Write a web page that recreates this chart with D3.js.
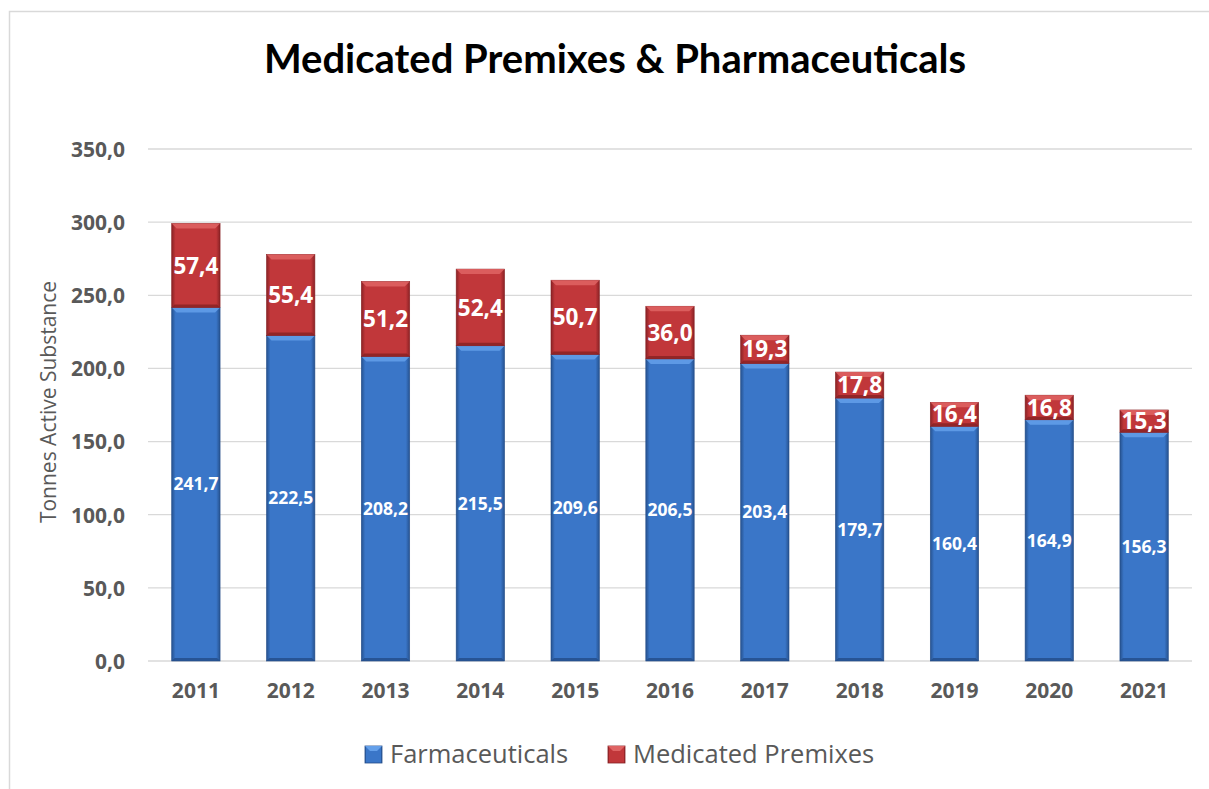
<!DOCTYPE html>
<html lang="en">
<head>
<meta charset="UTF-8">
<title>Medicated Premixes & Pharmaceuticals</title>
<script src="https://d3js.org/d3.v7.min.js"></script>
<style>
  body { margin: 0; background: #fff; }
  svg { display: block; font-family: "Open Sans", sans-serif; }
  .grid line { stroke: #d9d9d9; stroke-width: 1.3; }
  .axis text { fill: #595959; font-weight: bold; font-size: 21px; font-family: "Open Sans", sans-serif; }
</style>
</head>
<body>
<svg id="chart" width="1209" height="789"></svg>
<script>
// data
var years = ["2011","2012","2013","2014","2015","2016","2017","2018","2019","2020","2021"];
var farmaceuticals = [241.7, 222.5, 208.2, 215.5, 209.6, 206.5, 203.4, 179.7, 160.4, 164.9, 156.3];
var premixes = [57.4, 55.4, 51.2, 52.4, 50.7, 36.0, 19.3, 17.8, 16.4, 16.8, 15.3];
var yTicks = [0, 50, 100, 150, 200, 250, 300, 350];
var seriesNames = ["Farmaceuticals", "Medicated Premixes"];

var margin = {top: 149, right: 17, bottom: 128, left: 148},
    width = 1209 - margin.left - margin.right,
    height = 789 - margin.top - margin.bottom;

var fmt = function(v) { return d3.format(".1f")(v).replace(".", ","); };

var svg = d3.select("#chart");

// outer frame
svg.append("rect")
    .attr("x", 9.5).attr("y", 11.5)
    .attr("width", 1209).attr("height", 789)
    .attr("fill", "none").attr("stroke", "#d9d9d9").attr("stroke-width", 1.5);

svg.append("text")
    .attr("x", 615).attr("y", 73)
    .attr("text-anchor", "middle")
    .attr("font-family", "Lato, sans-serif")
    .attr("font-size", "40px").attr("font-weight", "bold").attr("fill", "#000")
    .text("Medicated Premixes & Pharmaceuticals");

var defs = svg.append("defs");
// bevel-ish gradients, one per colour
function makeGrad(id, edge, mid) {
  var g = defs.append("linearGradient").attr("id", id)
      .attr("x1", "0").attr("x2", "1").attr("y1", "0").attr("y2", "0");
  g.append("stop").attr("offset", "0").attr("stop-color", edge);
  g.append("stop").attr("offset", "0.08").attr("stop-color", mid);
  g.append("stop").attr("offset", "0.92").attr("stop-color", mid);
  g.append("stop").attr("offset", "1").attr("stop-color", edge);
}
makeGrad("gBlue", "#26528f", "#3a76c8");
makeGrad("gRed", "#8a2225", "#c1373a");

var colors = {
  blue: {grad: "url(#gBlue)", top: "#64a0ea", bottom: "#234c88"},
  red: {grad: "url(#gRed)", top: "#df6464", bottom: "#862023"}
};

var g = svg.append("g").attr("transform", `translate(${margin.left},${margin.top})`);

var x = d3.scaleBand().domain(years).range([0, width]).paddingInner(0.49).paddingOuter(0.25);
var y = d3.scaleLinear().domain([0, 350]).range([height, 0]);

// gridlines
g.append("g").attr("class", "grid")
  .selectAll("line").data(yTicks).enter().append("line")
    .attr("x1", 0).attr("x2", width)
    .attr("y1", function(d) { return y(d); })
    .attr("y2", function(d) { return y(d); });

// y axis labels
var yAxis = d3.axisLeft(y).tickValues(yTicks).tickFormat(fmt).tickSize(0).tickPadding(23);
g.append("g").attr("class", "axis").call(yAxis)
  .call(function(s) { s.select(".domain").remove(); })
  .selectAll("text").attr("dy", "0.35em");

// x axis labels
var xAxis = d3.axisBottom(x).tickSize(0).tickPadding(26);
g.append("g").attr("class", "axis").attr("transform", `translate(0,${height})`).call(xAxis)
  .call(function(s) { s.select(".domain").remove(); })
  .selectAll("text").attr("dy", "0.5em");

svg.append("text")
    .attr("transform", "translate(56,402) rotate(-90)")
    .attr("text-anchor", "middle")
    .attr("font-size", "21px").attr("fill", "#595959")
    .text("Tonnes Active Substance");

var stackData = years.map(function(yr, i) {
  return {year: yr, f: farmaceuticals[i], m: premixes[i]};
});

function bevelBar(sel, col, y0fn, y1fn) {
  var bw = x.bandwidth();
  sel.append("rect")
    .attr("x", function(d) { return x(d.year); })
    .attr("y", function(d) { return y(y1fn(d)); })
    .attr("width", bw)
    .attr("height", function(d) { return y(y0fn(d)) - y(y1fn(d)); })
    .attr("fill", col.grad)
    .attr("stroke", col.bottom).attr("stroke-width", 0.6);
  // lighter top bevel
  sel.append("path")
    .attr("d", function(d) {
      var x0 = x(d.year), yt = y(y1fn(d)), b = Math.min(5, (y(y0fn(d)) - yt) / 3);
      return `M${x0},${yt}L${x0 + bw},${yt}L${x0 + bw - b},${yt + b}L${x0 + b},${yt + b}Z`;
    })
    .attr("fill", col.top).attr("opacity", 0.85);
  // darker bottom bevel
  sel.append("path")
    .attr("d", function(d) {
      var x0 = x(d.year), yb = y(y0fn(d)), b = Math.min(3, (yb - y(y1fn(d))) / 4);
      return `M${x0},${yb}L${x0 + bw},${yb}L${x0 + bw - b},${yb - b}L${x0 + b},${yb - b}Z`;
    })
    .attr("fill", col.bottom).attr("opacity", 0.8);
}

var bars = g.selectAll(".bar").data(stackData).enter().append("g").attr("class", "bar");
bevelBar(bars, colors.blue, function() { return 0; }, function(d) { return d.f; });
bevelBar(bars, colors.red, function(d) { return d.f; }, function(d) { return d.f + d.m; });

// value labels
bars.append("text")
    .attr("x", function(d) { return x(d.year) + x.bandwidth() / 2; })
    .attr("y", function(d) { return y(d.f / 2); })
    .attr("dy", "0.35em").attr("text-anchor", "middle")
    .attr("font-size", "17.5px").attr("font-weight", "bold").attr("fill", "#fff")
    .text(function(d) { return fmt(d.f); });

bars.append("text")
    .attr("x", function(d) { return x(d.year) + x.bandwidth() / 2; })
    .attr("y", function(d) { return y(d.f + d.m / 2); })
    .attr("dy", "0.36em").attr("text-anchor", "middle")
    .attr("font-size", "22.5px").attr("font-weight", "bold").attr("fill", "#fff")
    .text(function(d) { return fmt(d.m); });

// legend
var legend = svg.append("g").attr("transform", "translate(365,746)");
var legItems = [
  {name: seriesNames[0], col: colors.blue, x: 0},
  {name: seriesNames[1], col: colors.red, x: 243}
];
legItems.forEach(function(it) {
  var lg = legend.append("g").attr("transform", `translate(${it.x},0)`);
  lg.append("rect").attr("width", 17).attr("height", 17)
    .attr("fill", it.col.grad).attr("stroke", it.col.bottom).attr("stroke-width", 0.8);
  lg.append("path").attr("d", "M0,0L17,0L12,5L5,5Z").attr("fill", it.col.top);
  lg.append("text").attr("x", 25).attr("y", 8).attr("dy", "0.36em")
    .attr("font-size", "25.5px").attr("fill", "#595959").text(it.name);
});
</script>
</body>
</html>
